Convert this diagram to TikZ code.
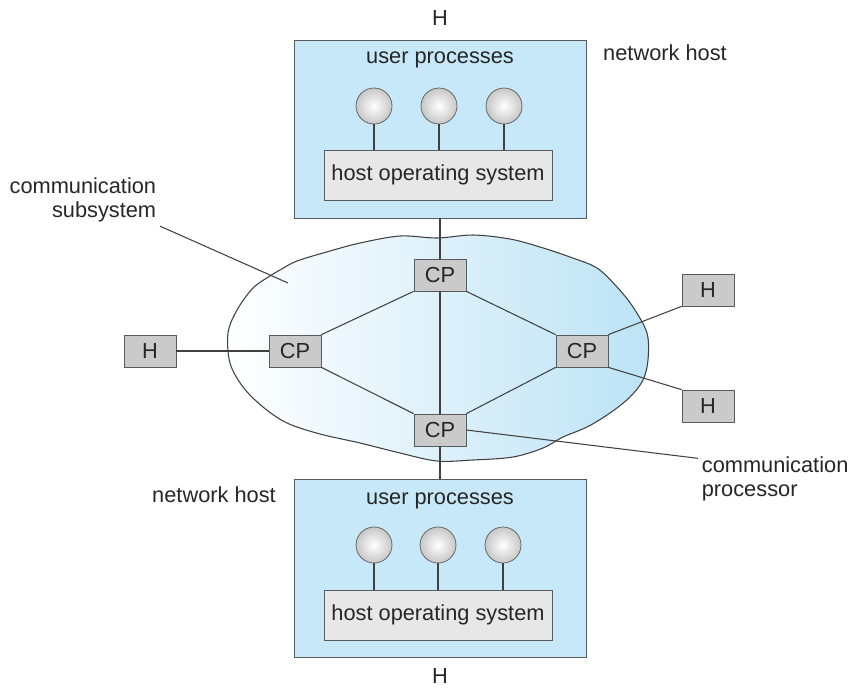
\documentclass[tikz,border=0pt]{standalone}
\usepackage{fontspec}
\setmainfont{Liberation Sans}
\usepackage{xcolor}
\usepackage{tikz}

\definecolor{hostblue}{RGB}{199,232,248}
\definecolor{cloudblue}{RGB}{188,227,245}
\definecolor{cpgray}{RGB}{202,202,202}
\definecolor{osgray}{RGB}{231,231,231}
\definecolor{edgegray}{RGB}{90,90,90}

\begin{document}
\begin{tikzpicture}[x=0.02cm,y=-0.02cm,
        font=\fontsize{12.4}{13.8}\selectfont, text=black!85,
        hostbox/.style={draw=edgegray, fill=hostblue, inner sep=0pt, minimum width=5.84cm, minimum height=3.56cm},
        osbox/.style={draw=edgegray, fill=osgray, inner sep=0pt, minimum width=4.56cm, minimum height=1cm},
        cpbox/.style={draw=edgegray, fill=cpgray, inner sep=0pt, minimum width=1.04cm, minimum height=0.64cm},
        proc/.style={circle, draw=edgegray, inner color=white, outer color=black!22, inner sep=0pt, minimum size=0.72cm},
        wire/.style={draw=black!75, line width=0.6pt}]
        \useasboundingbox (0,0) rectangle (852,691);

        % cloud
        \draw[draw=black!75, line width=0.6pt, left color=white, right color=cloudblue]
            plot[smooth cycle, tension=0.55] coordinates {
                (280,270) (297,261) (330,251) (360,243) (400,236) (437,238)
                (473,235) (510,239) (540,247) (570,257) (597,268) (617,287)
                (633,307) (647,333) (648,360) (643,380) (630,397) (610,413)
                (587,427) (563,437) (543,448) (513,457) (473,460) (437,461)
                (400,453) (360,443) (320,434) (287,423) (263,407) (243,387)
                (230,363) (228,333) (237,310) (253,288) (270,276)};

        % top host
        \node (topH) at (440,18) {H};
        \node[hostbox] (topHost) at (440,129) {};
        \node (topUser) at (440,60) {user processes};
        \node[osbox] (topOS) at (438,175) {host operating system};
        \node[proc] (topP1) at (374,106) {};
        \node[proc] (topP2) at (439,106) {};
        \node[proc] (topP3) at (504,106) {};
        \node (topLabel) at (665,53) {network host};

        % bottom host
        \node[hostbox] (botHost) at (440,568) {};
        \node (botUser) at (440,501) {user processes};
        \node[osbox] (botOS) at (438,615) {host operating system};
        \node[proc] (botP1) at (374,545) {};
        \node[proc] (botP2) at (438,545) {};
        \node[proc] (botP3) at (503,545) {};
        \node (botH) at (440,676) {H};
        \node (botLabel) at (214,495) {network host};

        % communication processors and hosts
        \node[cpbox] (cpT) at (440,275) {CP};
        \node[cpbox] (cpL) at (295,351) {CP};
        \node[cpbox] (cpR) at (582,351) {CP};
        \node[cpbox] (cpB) at (440,430) {CP};
        \node[cpbox] (hL) at (150,351) {H};
        \node[cpbox] (hRT) at (708,290) {H};
        \node[cpbox] (hRB) at (708,406) {H};

        \node[anchor=east, align=right, inner sep=2pt] (subsysLabel) at (160,200) {communication\\subsystem};
        \node[anchor=west, align=left, inner sep=2pt] (cpLabel) at (698,479) {communication\\processor};
        \coordinate (subsysTip) at (288,283);

        \draw[wire] (topP1) -- (topP1 |- topOS.north);
        \draw[wire] (topP2) -- (topP2 |- topOS.north);
        \draw[wire] (topP3) -- (topP3 |- topOS.north);
        \draw[wire] (botP1) -- (botP1 |- botOS.north);
        \draw[wire] (botP2) -- (botP2 |- botOS.north);
        \draw[wire] (botP3) -- (botP3 |- botOS.north);

        \draw[wire] (topHost.south) -- (cpT.north);
        \draw[wire] (cpT.south) -- (cpB.north);
        \draw[wire] (cpB.south) -- (botHost.north);
        \draw[wire] (cpT.south west) -- (cpL.north east);
        \draw[wire] (cpT.south east) -- (cpR.north west);
        \draw[wire] (cpL.south east) -- (cpB.north west);
        \draw[wire] (cpR.south west) -- (cpB.north east);
        \draw[wire] (hL.east) -- (cpL.west);
        \draw[wire] (cpR.north east) -- (hRT.south west);
        \draw[wire] (cpR.south east) -- (hRB.north west);

        \draw[wire] (subsysLabel.south east) -- (subsysTip);
        \draw[wire] (cpB.east) -- (cpLabel.165);
\end{tikzpicture}
\end{document}
